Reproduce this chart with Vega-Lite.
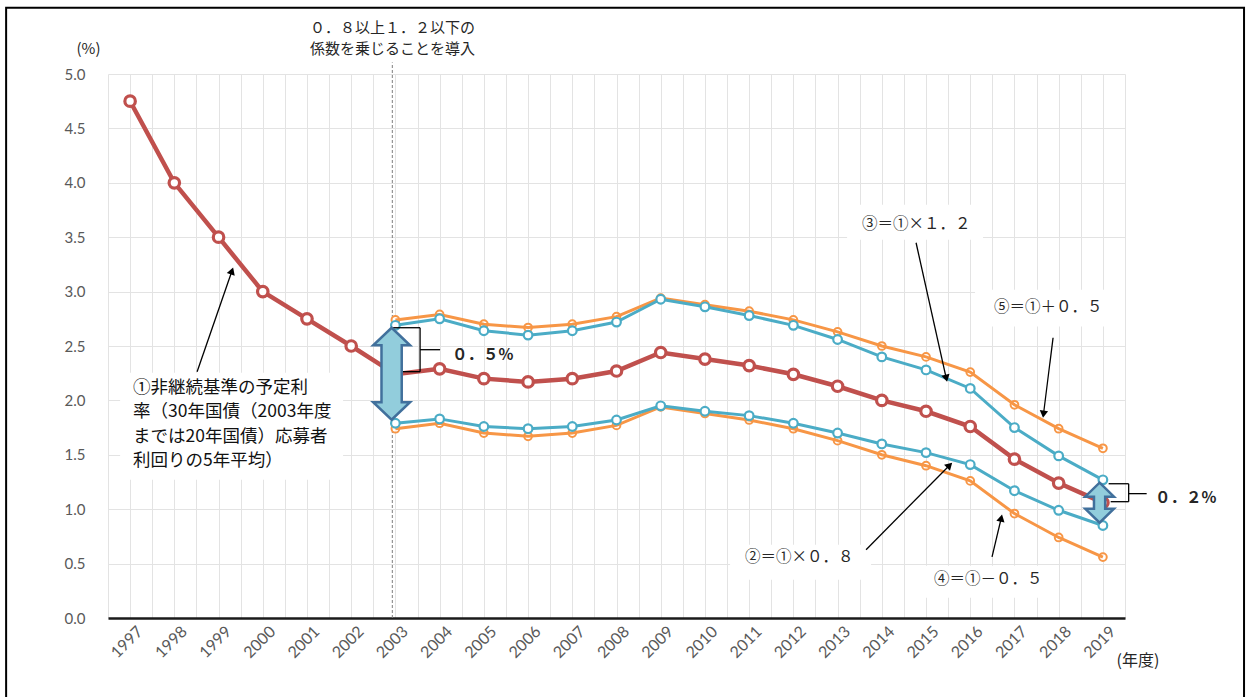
{
  "$schema": "https://vega.github.io/schema/vega-lite/v6.json",
  "width": 1017,
  "height": 544,
  "autosize": {"type": "none"},
  "padding": {"left": 108, "top": 74, "right": 123, "bottom": 79},
  "background": "white",
  "config": {"view": {"stroke": null}, "font": "Noto Sans CJK JP"},
  "datasets": {
    "series": [
      {"series": "①", "year": 1997, "value": 4.75},
      {"series": "①", "year": 1998, "value": 4.00},
      {"series": "①", "year": 1999, "value": 3.50},
      {"series": "①", "year": 2000, "value": 3.00},
      {"series": "①", "year": 2001, "value": 2.75},
      {"series": "①", "year": 2002, "value": 2.50},
      {"series": "①", "year": 2003, "value": 2.24},
      {"series": "①", "year": 2004, "value": 2.29},
      {"series": "①", "year": 2005, "value": 2.20},
      {"series": "①", "year": 2006, "value": 2.17},
      {"series": "①", "year": 2007, "value": 2.20},
      {"series": "①", "year": 2008, "value": 2.27},
      {"series": "①", "year": 2009, "value": 2.44},
      {"series": "①", "year": 2010, "value": 2.38},
      {"series": "①", "year": 2011, "value": 2.32},
      {"series": "①", "year": 2012, "value": 2.24},
      {"series": "①", "year": 2013, "value": 2.13},
      {"series": "①", "year": 2014, "value": 2.00},
      {"series": "①", "year": 2015, "value": 1.90},
      {"series": "①", "year": 2016, "value": 1.76},
      {"series": "①", "year": 2017, "value": 1.46},
      {"series": "①", "year": 2018, "value": 1.24},
      {"series": "①", "year": 2019, "value": 1.06},
      {"series": "③", "year": 2003, "value": 2.69},
      {"series": "③", "year": 2004, "value": 2.75},
      {"series": "③", "year": 2005, "value": 2.64},
      {"series": "③", "year": 2006, "value": 2.60},
      {"series": "③", "year": 2007, "value": 2.64},
      {"series": "③", "year": 2008, "value": 2.72},
      {"series": "③", "year": 2009, "value": 2.93},
      {"series": "③", "year": 2010, "value": 2.86},
      {"series": "③", "year": 2011, "value": 2.78},
      {"series": "③", "year": 2012, "value": 2.69},
      {"series": "③", "year": 2013, "value": 2.56},
      {"series": "③", "year": 2014, "value": 2.40},
      {"series": "③", "year": 2015, "value": 2.28},
      {"series": "③", "year": 2016, "value": 2.11},
      {"series": "③", "year": 2017, "value": 1.75},
      {"series": "③", "year": 2018, "value": 1.49},
      {"series": "③", "year": 2019, "value": 1.27},
      {"series": "②", "year": 2003, "value": 1.79},
      {"series": "②", "year": 2004, "value": 1.83},
      {"series": "②", "year": 2005, "value": 1.76},
      {"series": "②", "year": 2006, "value": 1.74},
      {"series": "②", "year": 2007, "value": 1.76},
      {"series": "②", "year": 2008, "value": 1.82},
      {"series": "②", "year": 2009, "value": 1.95},
      {"series": "②", "year": 2010, "value": 1.90},
      {"series": "②", "year": 2011, "value": 1.86},
      {"series": "②", "year": 2012, "value": 1.79},
      {"series": "②", "year": 2013, "value": 1.70},
      {"series": "②", "year": 2014, "value": 1.60},
      {"series": "②", "year": 2015, "value": 1.52},
      {"series": "②", "year": 2016, "value": 1.41},
      {"series": "②", "year": 2017, "value": 1.17},
      {"series": "②", "year": 2018, "value": 0.99},
      {"series": "②", "year": 2019, "value": 0.85},
      {"series": "⑤", "year": 2003, "value": 2.74},
      {"series": "⑤", "year": 2004, "value": 2.79},
      {"series": "⑤", "year": 2005, "value": 2.70},
      {"series": "⑤", "year": 2006, "value": 2.67},
      {"series": "⑤", "year": 2007, "value": 2.70},
      {"series": "⑤", "year": 2008, "value": 2.77},
      {"series": "⑤", "year": 2009, "value": 2.94},
      {"series": "⑤", "year": 2010, "value": 2.88},
      {"series": "⑤", "year": 2011, "value": 2.82},
      {"series": "⑤", "year": 2012, "value": 2.74},
      {"series": "⑤", "year": 2013, "value": 2.63},
      {"series": "⑤", "year": 2014, "value": 2.50},
      {"series": "⑤", "year": 2015, "value": 2.40},
      {"series": "⑤", "year": 2016, "value": 2.26},
      {"series": "⑤", "year": 2017, "value": 1.96},
      {"series": "⑤", "year": 2018, "value": 1.74},
      {"series": "⑤", "year": 2019, "value": 1.56},
      {"series": "④", "year": 2003, "value": 1.74},
      {"series": "④", "year": 2004, "value": 1.79},
      {"series": "④", "year": 2005, "value": 1.70},
      {"series": "④", "year": 2006, "value": 1.67},
      {"series": "④", "year": 2007, "value": 1.70},
      {"series": "④", "year": 2008, "value": 1.77},
      {"series": "④", "year": 2009, "value": 1.94},
      {"series": "④", "year": 2010, "value": 1.88},
      {"series": "④", "year": 2011, "value": 1.82},
      {"series": "④", "year": 2012, "value": 1.74},
      {"series": "④", "year": 2013, "value": 1.63},
      {"series": "④", "year": 2014, "value": 1.50},
      {"series": "④", "year": 2015, "value": 1.40},
      {"series": "④", "year": 2016, "value": 1.26},
      {"series": "④", "year": 2017, "value": 0.96},
      {"series": "④", "year": 2018, "value": 0.74},
      {"series": "④", "year": 2019, "value": 0.56}
    ],
    "boxes": [
      {"year": 1996.774, "year2": 2001.817, "value": 2.255, "value2": 1.271},
      {"year": 2013.215, "year2": 2016.29, "value": 3.799, "value2": 3.477},
      {"year": 2016.109, "year2": 2019.5, "value": 3.017, "value2": 2.679},
      {"year": 2010.569, "year2": 2013.757, "value": 0.674, "value2": 0.352},
      {"year": 2014.978, "year2": 2017.918, "value": 0.481, "value2": 0.187}
    ],
    "frame": [
      {"year": 1994.196, "year2": 2022.192, "value": 5.609, "value2": -0.8}
    ],
    "marker": [
      {"year": 2002.93, "value": 0, "value2": 5.106}
    ],
    "segments": [
      {"year": 1998.515, "value": 2.264, "year2": 1999.303, "value2": 3.189},
      {"year": 2014.775, "value": 3.449, "year2": 2015.458, "value2": 2.203},
      {"year": 2017.873, "value": 2.576, "year2": 2017.656, "value2": 1.873},
      {"year": 2013.644, "value": 0.628, "year2": 2015.533, "value2": 1.404},
      {"year": 2016.493, "value": 0.562, "year2": 2016.701, "value2": 0.918},
      {"year": 2002.948, "value": 2.668, "year2": 2003.558, "value2": 2.668},
      {"year": 2003.558, "value": 2.668, "year2": 2003.558, "value2": 2.264},
      {"year": 2003.106, "value": 2.264, "year2": 2003.558, "value2": 2.264},
      {"year": 2003.558, "value": 2.466, "year2": 2004.01, "value2": 2.466},
      {"year": 2019.13, "value": 1.234, "year2": 2019.583, "value2": 1.234},
      {"year": 2019.583, "value": 1.234, "year2": 2019.583, "value2": 1.069},
      {"year": 2019.176, "value": 1.069, "year2": 2019.583, "value2": 1.069},
      {"year": 2019.583, "value": 1.143, "year2": 2019.99, "value2": 1.143}
    ],
    "heads": [
      {"id": "a1", "year": 1999.303, "value": 3.189},
      {"id": "a3", "year": 2015.458, "value": 2.203},
      {"id": "a5", "year": 2017.656, "value": 1.873},
      {"id": "a2", "year": 2015.533, "value": 1.404},
      {"id": "a4", "year": 2016.701, "value": 0.918}
    ],
    "bigarrows": [
      {"id": "d2003", "year": 2002.914, "value": 2.245},
      {"id": "d2019", "year": 2018.925, "value": 1.06}
    ],
    "texts": [
      {"kind": "main", "year": 1997.068, "value": 2.117, "text": "①非継続基準の予定利\n率（30年国債（2003年度\nまでは20年国債）応募者\n利回りの5年平均）"},
      {"kind": "formula", "year": 2013.553, "value": 3.624, "text": "③＝①×１．２"},
      {"kind": "formula", "year": 2016.539, "value": 2.861, "text": "⑤＝①＋０．５"},
      {"kind": "formula", "year": 2010.908, "value": 0.56, "text": "②＝①×０．８"},
      {"kind": "formula", "year": 2015.182, "value": 0.361, "text": "④＝①－０．５"},
      {"kind": "top", "year": 2001.071, "value": 5.426, "text": "０．８以上１．２以下の"},
      {"kind": "top", "year": 2001.071, "value": 5.233, "text": "係数を乗じることを導入"},
      {"kind": "pct", "year": 2004.282, "value": 2.419, "text": "０．５%"},
      {"kind": "pct", "year": 2020.179, "value": 1.106, "text": "０．２%"}
    ]
  },
  "encoding": {
    "x": {
      "field": "year",
      "type": "quantitative",
      "scale": {"domain": [1996.5, 2019.5], "nice": false, "zero": false},
      "axis": {
        "values": [1996.5, 1997, 1997.5, 1998, 1998.5, 1999, 1999.5, 2000, 2000.5, 2001, 2001.5, 2002, 2002.5, 2003, 2003.5, 2004, 2004.5, 2005, 2005.5, 2006, 2006.5, 2007, 2007.5, 2008, 2008.5, 2009, 2009.5, 2010, 2010.5, 2011, 2011.5, 2012, 2012.5, 2013, 2013.5, 2014, 2014.5, 2015, 2015.5, 2016, 2016.5, 2017, 2017.5, 2018, 2018.5, 2019, 2019.5],
        "labelExpr": "datum.value % 1 === 0 ? format(datum.value, 'd') : ''",
        "labelAngle": -45,
        "labelFont": "Lato",
        "labelFontSize": 16,
        "labelColor": "#595959",
        "labelPadding": 5,
        "labelOffset": 4,
        "labelOverlap": false,
        "labelBound": false,
        "labelFlush": false,
        "ticks": false,
        "domainColor": "#1a1a1a",
        "domainWidth": 2.5,
        "gridColor": "#E3E3E3",
        "gridWidth": 1,
        "title": "(年度)",
        "titleFont": "Noto Sans CJK JP",
        "titleFontSize": 16,
        "titleFontWeight": "normal",
        "titleColor": "#262626",
        "titleAnchor": "start",
        "titleAlign": "left",
        "titleX": 1008,
        "titleY": 42,
        "titleBaseline": "middle"
      }
    },
    "y": {
      "field": "value",
      "type": "quantitative",
      "scale": {"domain": [0, 5], "nice": false},
      "axis": {
        "values": [0, 0.5, 1, 1.5, 2, 2.5, 3, 3.5, 4, 4.5, 5],
        "format": ".1f",
        "labelFont": "Lato",
        "labelFontSize": 15,
        "labelColor": "#595959",
        "labelPadding": 23,
        "ticks": false,
        "domain": false,
        "gridColor": "#E3E3E3",
        "gridWidth": 1,
        "title": "(%)",
        "titleAngle": 0,
        "titleFont": "Noto Sans CJK JP",
        "titleFontSize": 15,
        "titleFontWeight": "normal",
        "titleColor": "#262626",
        "titleX": -20,
        "titleY": -26,
        "titleAlign": "center",
        "titleBaseline": "middle"
      }
    }
  },
  "layer": [
    {
      "data": {"name": "frame"},
      "mark": {"type": "rect", "fill": null, "fillOpacity": 0, "stroke": "#000000", "strokeWidth": 2},
      "encoding": {"x2": {"field": "year2"}, "y2": {"field": "value2"}}
    },
    {
      "data": {"name": "boxes"},
      "mark": {"type": "rect", "fill": "#FFFFFF", "stroke": null},
      "encoding": {"x2": {"field": "year2"}, "y2": {"field": "value2"}}
    },
    {
      "data": {"name": "marker"},
      "mark": {"type": "rule", "color": "#7F7F7F", "strokeWidth": 1, "strokeDash": [3, 2]},
      "encoding": {"y2": {"field": "value2"}}
    },
    {
      "data": {"name": "series"},
      "transform": [{"filter": "datum.series === '④' || datum.series === '⑤'"}],
      "mark": {"type": "point", "shape": "circle", "filled": true, "fill": "#FFFFFF", "stroke": "#F79646", "strokeWidth": 2, "size": 60, "opacity": 1},
      "encoding": {}
    },
    {
      "data": {"name": "series"},
      "transform": [{"filter": "datum.series === '④' || datum.series === '⑤'"}],
      "mark": {"type": "line", "color": "#F79646", "strokeWidth": 3},
      "encoding": {"detail": {"field": "series"}}
    },
    {
      "data": {"name": "series"},
      "transform": [{"filter": "datum.series === '②' || datum.series === '③'"}],
      "mark": {"type": "line", "color": "#4BACC6", "strokeWidth": 3},
      "encoding": {"detail": {"field": "series"}}
    },
    {
      "data": {"name": "series"},
      "transform": [{"filter": "datum.series === '②' || datum.series === '③'"}],
      "mark": {"type": "point", "shape": "circle", "filled": true, "fill": "#FFFFFF", "stroke": "#4BACC6", "strokeWidth": 2.2, "size": 75, "opacity": 1},
      "encoding": {}
    },
    {
      "data": {"name": "series"},
      "transform": [{"filter": "datum.series === '①'"}],
      "mark": {"type": "line", "color": "#C0504D", "strokeWidth": 4.5},
      "encoding": {}
    },
    {
      "data": {"name": "series"},
      "transform": [{"filter": "datum.series === '①'"}],
      "mark": {"type": "point", "shape": "circle", "filled": true, "fill": "#FFFFFF", "stroke": "#C0504D", "strokeWidth": 3.2, "size": 110, "opacity": 1},
      "encoding": {}
    },
    {
      "data": {"name": "segments"},
      "mark": {"type": "rule", "color": "#000000", "strokeWidth": 1.3},
      "encoding": {"x2": {"field": "year2"}, "y2": {"field": "value2"}}
    },
    {
      "data": {"name": "heads"},
      "transform": [{"filter": "datum.id === 'a1'"}],
      "mark": {"type": "point", "shape": "triangle-up", "filled": true, "color": "#000000", "size": 70, "angle": 19, "opacity": 1},
      "encoding": {}
    },
    {
      "data": {"name": "heads"},
      "transform": [{"filter": "datum.id === 'a3'"}],
      "mark": {"type": "point", "shape": "triangle-up", "filled": true, "color": "#000000", "size": 70, "angle": 167, "opacity": 1},
      "encoding": {}
    },
    {
      "data": {"name": "heads"},
      "transform": [{"filter": "datum.id === 'a5'"}],
      "mark": {"type": "point", "shape": "triangle-up", "filled": true, "color": "#000000", "size": 70, "angle": 187, "opacity": 1},
      "encoding": {}
    },
    {
      "data": {"name": "heads"},
      "transform": [{"filter": "datum.id === 'a2'"}],
      "mark": {"type": "point", "shape": "triangle-up", "filled": true, "color": "#000000", "size": 70, "angle": 45, "opacity": 1},
      "encoding": {}
    },
    {
      "data": {"name": "heads"},
      "transform": [{"filter": "datum.id === 'a4'"}],
      "mark": {"type": "point", "shape": "triangle-up", "filled": true, "color": "#000000", "size": 70, "angle": 13, "opacity": 1},
      "encoding": {}
    },
    {
      "data": {"name": "bigarrows"},
      "transform": [{"filter": "datum.id === 'd2003'"}],
      "mark": {"type": "point", "shape": "M0,-1L0.4,-0.62L0.22,-0.62L0.22,0.62L0.4,0.62L0,1L-0.4,0.62L-0.22,0.62L-0.22,-0.62L-0.4,-0.62Z", "filled": true, "fill": "#92CDDC", "stroke": "#41709C", "strokeWidth": 2.5, "size": 8464, "opacity": 1, "fillOpacity": 1},
      "encoding": {}
    },
    {
      "data": {"name": "bigarrows"},
      "transform": [{"filter": "datum.id === 'd2019'"}],
      "mark": {"type": "point", "shape": "M0,-1L0.72,-0.3L0.28,-0.3L0.28,0.3L0.72,0.3L0,1L-0.72,0.3L-0.28,0.3L-0.28,-0.3L-0.72,-0.3Z", "filled": true, "fill": "#92CDDC", "stroke": "#41709C", "strokeWidth": 2.5, "size": 1600, "opacity": 1, "fillOpacity": 1},
      "encoding": {}
    },
    {
      "data": {"name": "texts"},
      "transform": [{"filter": "datum.kind === 'main'"}],
      "mark": {"type": "text", "align": "left", "baseline": "middle", "font": "Noto Sans CJK JP", "fontSize": 17.5, "lineBreak": "\n", "lineHeight": 24.5, "color": "#111111"},
      "encoding": {"text": {"field": "text"}}
    },
    {
      "data": {"name": "texts"},
      "transform": [{"filter": "datum.kind === 'formula'"}],
      "mark": {"type": "text", "align": "left", "baseline": "middle", "font": "Noto Sans CJK JP", "fontSize": 15.5, "color": "#262626"},
      "encoding": {"text": {"field": "text"}}
    },
    {
      "data": {"name": "texts"},
      "transform": [{"filter": "datum.kind === 'top'"}],
      "mark": {"type": "text", "align": "left", "baseline": "middle", "font": "Noto Sans CJK JP", "fontSize": 15, "color": "#262626"},
      "encoding": {"text": {"field": "text"}}
    },
    {
      "data": {"name": "texts"},
      "transform": [{"filter": "datum.kind === 'pct'"}],
      "mark": {"type": "text", "align": "left", "baseline": "middle", "font": "Noto Sans CJK JP", "fontSize": 15.5, "fontWeight": "bold", "color": "#262626"},
      "encoding": {"text": {"field": "text"}}
    }
  ]
}
